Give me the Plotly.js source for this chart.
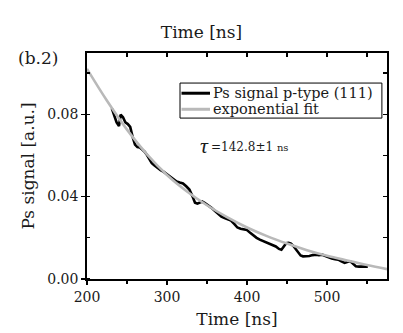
<!DOCTYPE html>
<html>
<head>
<meta charset="utf-8">
<script src="https://cdn.plot.ly/plotly-3.0.1.min.js"></script>
<style>html,body{margin:0;padding:0;background:#fff;}#chart{width:403px;height:333px;}</style>
</head>
<body>
<div id="chart"></div>
<script>
// Measured Ps signal (p-type (111))
const dataTime = [231,234,237,240,242,245,248,251,254,257,260,263,266,269,272,275,278,281,284,288,292,296,300,304,308,312,316,320,324,328,332,335,338,341,344,347,350,353,356,360,364,368,372,376,380,384,388,392,396,400,404,408,412,416,420,424,428,432,436,440,443,446,449,452,455,458,461,464,467,470,474,478,482,486,490,494,498,502,506,510,514,518,522,526,529,532,536,540,544,548,551];
const dataSignal = [0.0828,0.0790,0.0760,0.0742,0.0798,0.0785,0.0760,0.0752,0.0738,0.0690,0.0652,0.0640,0.0638,0.0628,0.0618,0.0602,0.0580,0.0562,0.0552,0.0538,0.0528,0.0520,0.0508,0.0496,0.0485,0.0473,0.0468,0.0464,0.0450,0.0434,0.0400,0.0370,0.0366,0.0372,0.0376,0.0370,0.0362,0.0352,0.0344,0.0330,0.0318,0.0303,0.0296,0.0290,0.0284,0.0268,0.0250,0.0244,0.0240,0.0238,0.0224,0.0210,0.0200,0.0191,0.0184,0.0178,0.0174,0.0166,0.0158,0.0146,0.0142,0.0158,0.0174,0.0176,0.0172,0.0160,0.0144,0.0128,0.0114,0.0110,0.0110,0.0112,0.0116,0.0118,0.0116,0.0118,0.0112,0.0104,0.0100,0.0096,0.0094,0.0086,0.0078,0.0084,0.0086,0.0076,0.0062,0.0060,0.0060,0.0062,0.0060];
// Exponential fit curve
const fitTime = [200,225,250,275,300,325,350,375,400,425,450,475,500,525,550,575];
const fitSignal = [0.1020,0.0865,0.0725,0.0605,0.0505,0.0425,0.0358,0.0300,0.0250,0.0208,0.0172,0.0140,0.0113,0.0090,0.0068,0.0048];
// Axis ticks
const xTicks = [200,300,400,500];
const yTicks = [0.00,0.04,0.08];
const yTickText = ['0.00','0.04','0.08'];
const seriesNames = ['Ps signal p-type (111)','exponential fit'];
const seriesColors = ['#000000','#b9b9b9'];

const FONT = 'DejaVu Serif, Liberation Serif, serif';
const TXT = '#1a1a1a';
const xRange = [200, 575];
const yRange = [0, 0.1097];

const traces = [
  {x: dataTime, y: dataSignal, type: 'scatter', mode: 'lines', name: seriesNames[0],
   showlegend: false, line: {color: seriesColors[0], width: 2.6}},
  {x: fitTime, y: fitSignal, type: 'scatter', mode: 'lines', name: seriesNames[1],
   showlegend: false, line: {color: seriesColors[1], width: 2.6, shape: 'spline'}},
  {x: fitTime, y: fitSignal, type: 'scatter', mode: 'lines', xaxis: 'x2', yaxis: 'y2',
   showlegend: false, hoverinfo: 'skip', line: {width: 0}, opacity: 0}
];

// legend box (paper coordinates of the plot area)
const lg = {x0: 0.31, x1: 0.983, y0: 0.712, y1: 0.867, rows: [0.822, 0.751], lineX: [0.315, 0.41], textX: 0.415};

const shapes = [
  {type: 'rect', xref: 'paper', yref: 'paper', x0: lg.x0, x1: lg.x1, y0: lg.y0, y1: lg.y1,
   line: {color: '#000', width: 1}, fillcolor: '#ffffff', layer: 'above'}
];
const annotations = [
  {text: '(b.2)', xref: 'paper', yref: 'paper', x: -0.09, y: 0.978, xanchor: 'right', yanchor: 'middle',
   showarrow: false, font: {family: FONT, size: 17, color: TXT}},
  {text: '<i>τ</i>', xref: 'paper', yref: 'paper', x: 0.37, y: 0.59, xanchor: 'left', yanchor: 'middle',
   showarrow: false, font: {family: 'Liberation Serif, serif', size: 22, color: TXT}},
  {text: '=142.8±1 <span style="font-size:10px">ns</span>', xref: 'paper', yref: 'paper', x: 0.405, y: 0.585,
   xanchor: 'left', yanchor: 'middle', showarrow: false, font: {family: FONT, size: 12, color: TXT}}
];
seriesNames.forEach((nm, i) => {
  shapes.push({type: 'line', xref: 'paper', yref: 'paper', x0: lg.lineX[0], x1: lg.lineX[1],
               y0: lg.rows[i], y1: lg.rows[i], line: {color: seriesColors[i], width: 3}, layer: 'above'});
  annotations.push({text: nm, xref: 'paper', yref: 'paper', x: lg.textX, y: lg.rows[i],
                    xanchor: 'left', yanchor: 'middle', showarrow: false, borderpad: 0,
                    font: {family: FONT, size: 14.5, color: TXT}});
});

const layout = {
  width: 403, height: 333,
  margin: {l: 87, r: 16, t: 53, b: 54},
  paper_bgcolor: '#ffffff', plot_bgcolor: '#ffffff',
  font: {family: FONT, color: TXT, size: 14},
  showlegend: false,
  title: {text: 'Time [ns]', x: 0.5, xanchor: 'center', y: 0.905, yanchor: 'middle',
          font: {family: FONT, size: 17, color: TXT}},
  xaxis: {range: xRange, tickvals: xTicks, ticktext: xTicks.map(String),
          ticks: 'outside', ticklen: 4, tickwidth: 1.3, tickcolor: '#000',
          minor: {dtick: 50, tick0: 200, ticks: 'outside', ticklen: 3, tickcolor: '#000'},
          showline: true, linecolor: '#000', linewidth: 1.8, mirror: true,
          showgrid: false, zeroline: false,
          tickfont: {family: FONT, size: 14, color: TXT},
          title: {text: 'Time [ns]', standoff: 9, font: {family: FONT, size: 17, color: TXT}}},
  yaxis: {range: yRange, tickvals: yTicks, ticktext: yTickText,
          ticks: 'outside', ticklen: 4, tickwidth: 1.3, tickcolor: '#000',
          minor: {dtick: 0.02, tick0: 0, ticks: 'inside', ticklen: 3, tickcolor: '#000'},
          showline: true, linecolor: '#000', linewidth: 1.8, mirror: true,
          showgrid: false, zeroline: false,
          tickfont: {family: FONT, size: 14, color: TXT},
          title: {text: 'Ps signal [a.u.]', standoff: 8, font: {family: FONT, size: 17, color: TXT}}},
  xaxis2: {overlaying: 'x', side: 'top', range: xRange, dtick: 50, tick0: 200,
           ticks: 'inside', ticklen: 4, tickwidth: 1.3, tickcolor: '#000',
           showticklabels: false, showgrid: false, zeroline: false, showline: false},
  yaxis2: {overlaying: 'y', side: 'right', range: yRange, dtick: 0.02, tick0: 0,
           ticks: 'inside', ticklen: 4, tickwidth: 1.3, tickcolor: '#000',
           showticklabels: false, showgrid: false, zeroline: false, showline: false},
  shapes: shapes,
  annotations: annotations
};

Plotly.newPlot('chart', traces, layout, {displayModeBar: false, staticPlot: true});
</script>
</body>
</html>
